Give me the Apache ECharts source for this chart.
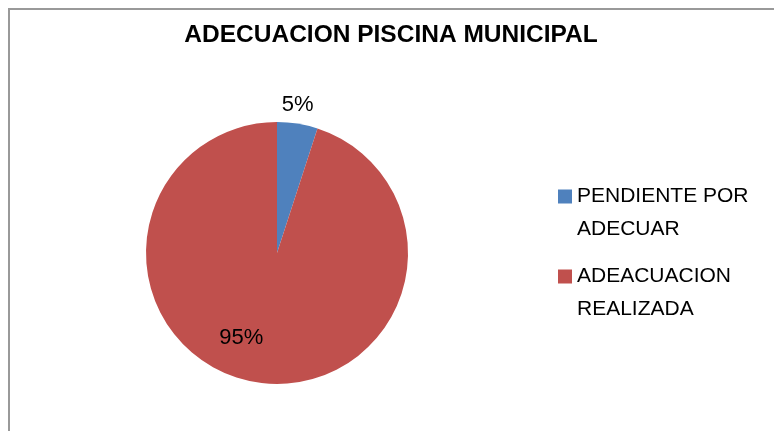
<!DOCTYPE html>
<html>
<head>
<meta charset="utf-8">
<script src="https://cdn.jsdelivr.net/npm/echarts@6/dist/echarts.min.js"></script>
<style>
  html, body { margin: 0; padding: 0; background: #fff; }
  #chart { width: 774px; height: 431px; }
</style>
</head>
<body>
<div id="chart"></div>
<script>
const categories = ['PENDIENTE POR\nADECUAR', 'ADEACUACION\nREALIZADA'];
const values = [5, 95];
const colors = ['#4F81BD', '#C0504D'];
// where each percent label sits relative to its slice
const labelPos = [[10, -80], [-25, 17]];

const getOption = () => {
    return {
        animation: false,
        title: {
            text: 'ADECUACION PISCINA MUNICIPAL',
            left: 386,
            textAlign: 'center',
            top: 18,
            textStyle: {
                fontFamily: 'Liberation Sans',
                fontSize: 24.5,
                fontWeight: 'bold',
                color: '#000'
            }
        },
        legend: {
            orient: 'vertical',
            left: 558,
            top: 147,
            padding: 0,
            itemWidth: 14,
            itemHeight: 14,
            itemGap: -19,
            icon: 'rect',
            // blank first line keeps the square level with the first text line
            formatter: name => '\n' + name,
            textStyle: {
                fontFamily: 'Liberation Sans',
                fontSize: 21,
                lineHeight: 33,
                color: '#000'
            }
        },
        graphic: [{
            type: 'rect',
            shape: { x: 9, y: 9, width: 800, height: 500 },
            style: { fill: 'none', stroke: '#999', lineWidth: 2 },
            silent: true
        }],
        series: [{
            type: 'pie',
            center: [277, 253],
            radius: 131,
            startAngle: 90,
            percentPrecision: 0,
            labelLine: { show: false },
            data: categories.map((name, i) => ({
                name: name,
                value: values[i],
                itemStyle: { color: colors[i] },
                label: {
                    show: true,
                    position: 'inside',
                    offset: labelPos[i],
                    formatter: '{d}%',
                    fontFamily: 'Liberation Sans',
                    fontSize: 22,
                    color: '#000'
                }
            }))
        }]
    };
};

window.addEventListener('load', () => {
    const chart = echarts.init(document.getElementById('chart'));
    chart.setOption(getOption());
});
</script>
</body>
</html>
